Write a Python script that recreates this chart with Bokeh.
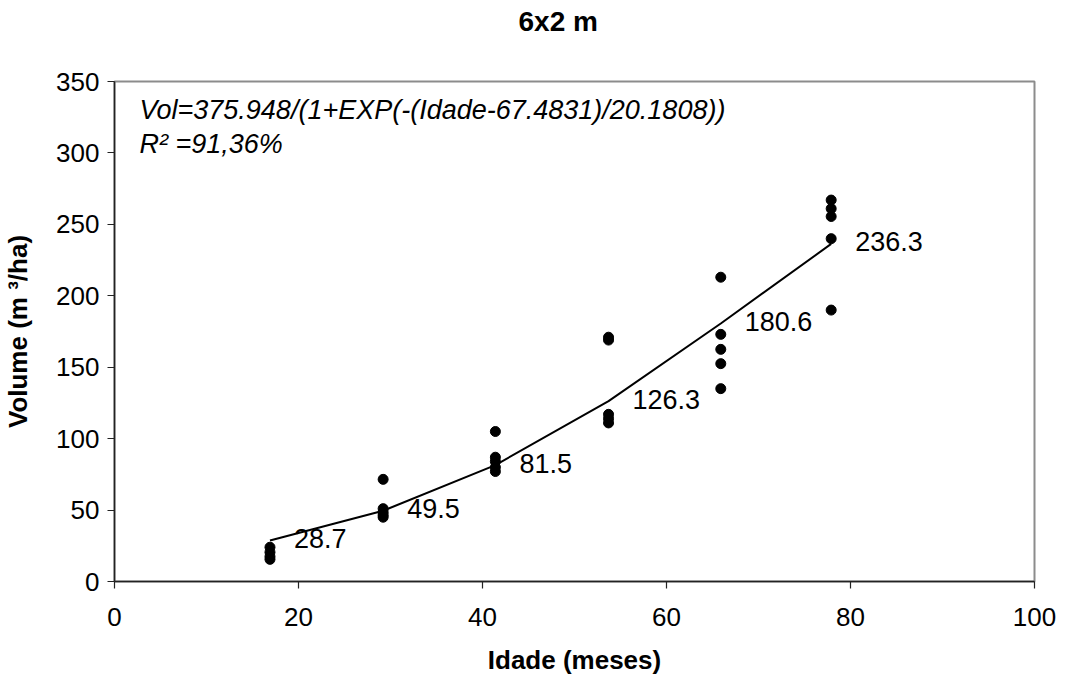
from bokeh.plotting import figure
from bokeh.models import Range1d, Label, SingleIntervalTicker, ColumnDataSource, Title
from bokeh.core.properties import value
from bokeh.embed import file_html
from bokeh.resources import INLINE

FONT = "Liberation Sans"

# idade (meses) de cada medição
ages = [16.9, 29.2, 41.4, 53.7, 65.9, 77.9]
# volume ajustado pelo modelo logístico
fit_volume = [28.7, 49.5, 81.5, 126.3, 180.6, 236.3]

# volumes observados por idade (m3/ha)
vol_17 = [24.0, 20.5, 17.5, 15.5]
vol_29 = [71.5, 51.0, 48.5, 46.5, 45.0]
vol_41 = [105.0, 87.0, 84.0, 80.0, 77.0]
vol_54 = [171.0, 169.0, 117.0, 114.0, 111.0]
vol_66 = [213.0, 173.0, 162.5, 152.5, 135.0]
vol_78 = [267.0, 261.0, 255.5, 240.0, 190.0]

x_ticks = [0, 20, 40, 60, 80, 100]
y_ticks = [0, 50, 100, 150, 200, 250, 300, 350]

equation = "Vol=375.948/(1+EXP(-(Idade-67.4831)/20.1808))"
r2_text = "R\u00b2 =91,36%"

obs_x, obs_y = [], []
for age, vols in zip(ages, [vol_17, vol_29, vol_41, vol_54, vol_66, vol_78]):
    obs_x += [age] * len(vols)
    obs_y += vols

obs_source = ColumnDataSource(data=dict(age=obs_x, vol=obs_y))
fit_source = ColumnDataSource(data=dict(
    age=ages,
    vol=fit_volume,
    label=["%.1f" % v for v in fit_volume],
))

p = figure(width=1056, height=677,
           x_range=Range1d(x_ticks[0], x_ticks[-1]),
           y_range=Range1d(y_ticks[0], y_ticks[-1]),
           output_backend="svg", toolbar_location=None,
           min_border_left=113, min_border_right=22,
           min_border_top=81, min_border_bottom=95)

# espaço vazio entre o título e o gráfico
p.add_layout(Title(text=" ", text_font_size="10px", standoff=28), "above")

p.title.text = "6x2 m"
p.title.text_font = FONT
p.title.text_font_size = "28px"
p.title.text_font_style = "bold"
p.title.text_color = "black"
p.title.align = "left"
p.title.offset = 404
p.title.vertical_align = "top"
p.title.standoff = 4

p.xgrid.visible = False
p.ygrid.visible = False
p.outline_line_color = "#8c8c8c"
p.outline_line_width = 2
p.background_fill_color = "white"
p.border_fill_color = "white"

p.xaxis.ticker = SingleIntervalTicker(interval=20, num_minor_ticks=0)
p.yaxis.ticker = SingleIntervalTicker(interval=50, num_minor_ticks=0)

for ax in (p.xaxis, p.yaxis):
    ax.axis_line_color = "#222222"
    ax.axis_line_width = 1.5
    ax.major_tick_line_color = "#222222"
    ax.major_tick_line_width = 1.2
    ax.major_tick_in = 0
    ax.major_tick_out = 7
    ax.minor_tick_line_color = None
    ax.major_label_text_font = FONT
    ax.major_label_text_font_size = "26px"
    ax.major_label_text_color = "black"
    ax.axis_label_text_font = FONT
    ax.axis_label_text_font_size = "26px"
    ax.axis_label_text_font_style = "bold"
    ax.axis_label_text_color = "black"

p.xaxis.axis_label = "Idade (meses)"
p.yaxis.axis_label = "Volume (m \u00b3/ha)"
p.xaxis.major_label_standoff = 19
p.xaxis.axis_label_standoff = 16
p.yaxis.major_label_standoff = 8
p.yaxis.axis_label_standoff = 20

# curva ajustada
p.line(x="age", y="vol", source=fit_source, line_color="black", line_width=2)

# observações
p.scatter(x="age", y="vol", source=obs_source, size=10,
          fill_color="black", line_color="black")

# rótulos dos valores ajustados
p.text(x="age", y="vol", text="label", source=fit_source,
       x_offset=24, y_offset=-2, text_baseline="middle", text_align="left",
       text_font=value(FONT), text_font_size="27px", text_color="black")

# equação do modelo
p.add_layout(Label(x=25, y=472, x_units="screen", y_units="screen",
                   text=equation, text_font=FONT, text_font_size="27px",
                   text_font_style="italic", text_baseline="middle",
                   text_color="black"))
p.add_layout(Label(x=25, y=438, x_units="screen", y_units="screen",
                   text=r2_text, text_font=FONT, text_font_size="27px",
                   text_font_style="italic", text_baseline="middle",
                   text_color="black"))

open("out.html", "w").write(file_html(p, INLINE))
